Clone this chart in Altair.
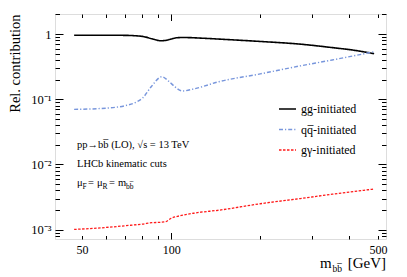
import altair as alt
import pandas as pd

# ---- data ----
mass_gg = [47, 60, 70, 76, 80, 86, 92, 96, 100, 105, 110, 130, 150, 200, 273, 350, 420, 485]
rel_gg = [0.96, 0.96, 0.955, 0.94, 0.92, 0.85, 0.79, 0.80, 0.84, 0.88, 0.885, 0.86, 0.83, 0.77, 0.70, 0.62, 0.56, 0.50]

mass_qq = [47, 60, 70, 76, 80, 86, 93, 98, 103, 109, 120, 145, 200, 273, 350, 420, 485]
rel_qq = [0.070, 0.073, 0.080, 0.090, 0.104, 0.160, 0.222, 0.190, 0.155, 0.134, 0.145, 0.186, 0.245, 0.325, 0.400, 0.470, 0.535]

mass_ga = [47, 60, 70, 80, 86, 92, 96, 100, 105, 120, 146, 200, 273, 350, 485]
rel_ga = [0.00101, 0.00108, 0.00115, 0.00122, 0.00128, 0.0013, 0.00133, 0.0015, 0.0016, 0.0018, 0.0020, 0.0025, 0.0030, 0.0035, 0.0042]

series = ["gg-initiated", "qq\u0305-initiated", "g\u03b3-initiated"]

x_ticks = [50, 60, 70, 80, 90, 100, 200, 300, 400, 500]
y_major = [1, 0.1, 0.01, 0.001]
y_ticks = [k * d for d in [0.0001, 0.001, 0.01, 0.1, 1] for k in range(1, 10)]
y_ticks = [v for v in y_ticks if 7.3e-4 <= v <= 2.0]

rows = []
for name, ms, vs in zip(series, [mass_gg, mass_qq, mass_ga], [rel_gg, rel_qq, rel_ga]):
    for m, v in zip(ms, vs):
        rows.append({"m": m, "v": v, "s": name})
df = pd.DataFrame(rows)

FONT = "'Liberation Serif', 'Times New Roman', Times, serif"
W, H = 331, 225
xs = alt.Scale(type="log", domain=[40.5, 532], nice=False)
ys = alt.Scale(type="log", domain=[7.2e-4, 2.03], nice=False)

colors = ["black", "#7896dc", "#ff1a1a"]
dashes = [[1, 0], [4, 2, 1.2, 2], [2.5, 1.5]]

leg = alt.Legend(
    title=None, orient="none", legendX=223, legendY=85.5, symbolType="stroke",
    symbolSize=289, symbolStrokeWidth=1.5, labelFont=FONT, labelFontSize=12,
    labelColor="black", rowPadding=4.5, padding=0, labelOffset=4,
)

y_major_test = "abs(log(datum.value)/LN10 - round(log(datum.value)/LN10)) < 1e-6"
ytick = {"condition": {"test": y_major_test, "value": 8}, "value": 4.5}
xtick = {"condition": {"test": "datum.value == 100", "value": 6.5}, "value": 3.5}

lines = alt.Chart(df).mark_line(interpolate="monotone", clip=True).encode(
    x=alt.X("m:Q", scale=xs, axis=alt.Axis(
        values=x_ticks, ticks=False, domain=False, grid=False, title=None,
        labelExpr="(datum.value == 50 || datum.value == 100 || datum.value == 500) ? datum.label : ''",
        labelFont=FONT, labelFontSize=12, labelColor="black", labelPadding=5,
        labelFlush=False, labelOverlap=False)),
    y=alt.Y("v:Q", scale=ys, axis=alt.Axis(
        values=y_major, ticks=False, domain=False, grid=False,
        labelExpr="datum.value == 1 ? '1' : datum.value > 0.05 ? '10\u207b\u00b9' : datum.value > 0.005 ? '10\u207b\u00b2' : '10\u207b\u00b3'",
        labelFont=FONT, labelFontSize=12.5, labelColor="black", labelPadding=4,
        title="Rel. contribution", titleAnchor="end", titleFont=FONT, titleFontSize=14.5,
        titleFontWeight="normal", titleColor="black", titlePadding=8, labelFlush=False)),
    color=alt.Color("s:N", scale=alt.Scale(domain=series, range=colors), legend=leg),
    strokeDash=alt.StrokeDash("s:N", scale=alt.Scale(domain=series, range=dashes), legend=leg),
    strokeWidth=alt.StrokeWidth("s:N", scale=alt.Scale(domain=series, range=[1.6, 1.3, 1.5]), legend=None),
)

def tick_layer(xorient, yorient):
    return alt.Chart(df).mark_point(opacity=0).encode(
        x=alt.X("m:Q", scale=xs, axis=alt.Axis(
            orient=xorient, offset=-H, values=x_ticks, labels=False, domain=False,
            grid=False, title=None, tickSize=xtick, tickColor="black", tickWidth=1)),
        y=alt.Y("v:Q", scale=ys, axis=alt.Axis(
            orient=yorient, offset=-W, values=y_ticks, labels=False, domain=False,
            grid=False, title=None, tickSize=ytick, tickColor="black", tickWidth=1)),
    )

ticks_a = tick_layer("top", "right")     # inward ticks on bottom and left edges
ticks_b = tick_layer("bottom", "left")   # inward ticks on top and right edges

def txt(s, x, y, size=10.5, align="left"):
    return alt.Chart(pd.DataFrame({"t": [s]})).mark_text(
        align=align, baseline="alphabetic", font=FONT, fontSize=size, color="black"
    ).encode(x=alt.value(x), y=alt.value(y), text="t:N")

notes = [
    txt("pp\u2192bb\u0305 (LO), \u221as = 13 TeV", 22, 134),
    txt("LHCb kinematic cuts", 22, 153),
    txt("\u03bc", 22, 172), txt("F", 27.5, 175, 7.5),
    txt("=", 33, 172), txt("\u03bc", 42, 172), txt("R", 47.5, 175, 7.5),
    txt("=", 54, 172), txt("m", 63, 172), txt("bb\u0305", 71, 175, 7.5),
    # x-axis title
    txt("m", 265, 254, 15), txt("bb\u0305", 277.5, 258, 9.5),
    txt("[GeV]", 331, 254, 15, align="right"),
]

chart = alt.layer(lines, ticks_a, ticks_b, *notes).resolve_axis(
    x="independent", y="independent"
).resolve_scale(x="shared", y="shared").properties(
    width=W, height=H, autosize="none",
    padding={"left": 47, "top": 6, "right": 13, "bottom": 48},
).configure_view(stroke="black", strokeWidth=1.4).configure(background="white")

chart.save("out.html", embed_options={"renderer": "svg", "actions": False})
